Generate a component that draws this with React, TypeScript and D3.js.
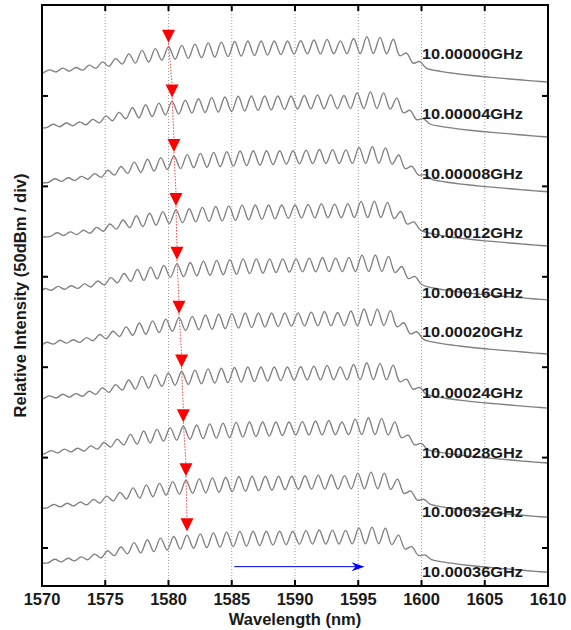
import React from "react";
import * as d3 from "d3";

// ---- data ----
const xTicks = [1570, 1575, 1580, 1585, 1590, 1595, 1600, 1605, 1610];
const yTicks = [0, 50, 100, 150, 200, 250];
const frequencyLabels = [
  "10.00000GHz", "10.00004GHz", "10.00008GHz", "10.00012GHz", "10.00016GHz",
  "10.00020GHz", "10.00024GHz", "10.00028GHz", "10.00032GHz", "10.00036GHz",
];
// level (dB) of each trace at 1610 nm (traces offset ~30 dB apart)
const traceLevels = [257.7, 227.3, 197.0, 167.0, 137.2, 107.3, 77.4, 47.0, 17.0, -13.4];
// marked (red triangle) peak wavelength of each trace
const markerWavelengths = [1580.0, 1580.28, 1580.43, 1580.59, 1580.67, 1580.83, 1581.04, 1581.17, 1581.38, 1581.46];
// comb peak wavelengths of the first trace
const combPeaks = [
  1569.55, 1570.6, 1571.64, 1572.69, 1573.73, 1574.78, 1575.82, 1576.87, 1577.91, 1578.96,
  1580.0, 1581.05, 1582.09, 1583.14, 1584.18, 1585.23, 1586.27, 1587.32, 1588.36, 1589.41,
  1590.45, 1591.5, 1592.54, 1593.59, 1594.63, 1595.68, 1596.72, 1597.77, 1598.81, 1599.86,
];
// peak-top envelope (dB above the 1610 nm level)
const peakNodes = [1570, 1571.4, 1572.6, 1573.8, 1574.8, 1575.9, 1577.0, 1578.0, 1579.1, 1580, 1583, 1586, 1590, 1592.6, 1593.7, 1594.7, 1595.7, 1596.7, 1597.75, 1598.7, 1599.75, 1600.4];
const peakLevels = [6.1, 7.6, 7.9, 9.4, 11.2, 13.1, 15.9, 17.7, 18.6, 19.5, 21.6, 22.7, 22.7, 23.6, 22.7, 24.2, 25.1, 24.7, 23.8, 16.5, 11.8, 9.0];
// valley envelope (dB above the 1610 nm level)
const valleyNodes = [1570, 1571, 1572.2, 1573.3, 1574.4, 1575.4, 1576.4, 1577.5, 1578.5, 1579.6, 1582, 1586, 1590, 1597, 1598.2, 1599.2, 1600.2, 1601];
const valleyLevels = [5.0, 5.5, 6.1, 6.6, 7.7, 8.8, 10.0, 10.5, 11.1, 12.2, 13.3, 14.4, 15.5, 15.8, 14.9, 10.8, 8.0, 6.6];
// smooth tail beyond the comb
const tailNodes = [1601.5, 1602, 1603, 1604, 1605, 1606, 1607, 1608, 1609, 1610];
const tailLevels = [5.9, 5.3, 4.4, 3.6, 2.9, 2.3, 1.7, 1.1, 0.5, 0.0];
// label baselines (dB)
const labelLevels = [270.3, 237.1, 203.9, 171.5, 138.1, 116.5, 82.8, 49.6, 17.0, -16.2];
// blue arrow
const arrowFrom = 1585.2;
const arrowTo = 1595.5;
const arrowLevel = -10.3;

const W = 571;
const H = 630;
const M = { left: 42, right: 548, top: 5, bottom: 586 };
const FONT = "'Liberation Sans', Arial, Helvetica, sans-serif";

export default function App() {
  const x = d3.scaleLinear().domain([1570, 1610]).range([M.left, M.right]);
  const y = d3.scaleLinear().domain([-21, 300.3]).range([M.bottom, M.top]);
  const peakEnv = d3.scaleLinear().domain(peakNodes).range(peakLevels).clamp(true);
  const valleyEnv = d3.scaleLinear().domain(valleyNodes).range(valleyLevels).clamp(true);
  const spacing = combPeaks[1] - combPeaks[0];

  const line = d3
    .line<[number, number]>()
    .x((d) => x(d[0]))
    .y((d) => y(d[1]))
    .curve(d3.curveCatmullRom.alpha(0.5));

  const tracePoints = (i: number): [number, number][] => {
    const shift = markerWavelengths[i] - markerWavelengths[0];
    const peaks = combPeaks.map((p) => p + shift).filter((p) => p >= 1570.2 && p <= 1600.4);
    const pts: [number, number][] = [[1570, valleyEnv(1570)]];
    peaks.forEach((p) => {
      const v = p - spacing / 2;
      if (v > 1570.05) pts.push([v, valleyEnv(v)]);
      pts.push([p, peakEnv(p)]);
    });
    const lastV = peaks[peaks.length - 1] + spacing / 2;
    pts.push([lastV, valleyEnv(lastV)]);
    tailNodes.forEach((w, k) => {
      if (w > lastV + 0.3) pts.push([w, tailLevels[k]]);
    });
    return pts.map(([w, l]) => [w, l + traceLevels[i]] as [number, number]);
  };

  const markers = markerWavelengths.map((m, i) => {
    const cx = x(m);
    const tip = y(traceLevels[i] + peakEnv(m)) - 4;
    return { cx, tip, top: tip - 13 };
  });

  const ay = y(arrowLevel);
  const ax1 = x(arrowFrom);
  const ax2 = x(arrowTo);

  return (
    <svg
      width={W}
      height={H}
      style={{ position: "absolute", left: 0, top: 0, background: "#fff" }}
      fontFamily={FONT}
    >
      <rect x={0} y={0} width={W} height={H} fill="#fff" />
      {/* dotted vertical grid */}
      {xTicks.slice(1, -1).map((t) => (
        <line
          key={"g" + t}
          x1={x(t)}
          x2={x(t)}
          y1={M.top}
          y2={M.bottom}
          stroke="#9a9a9a"
          strokeWidth={1}
          strokeDasharray="1,2"
        />
      ))}
      {/* traces */}
      {traceLevels.map((_, i) => (
        <path
          key={"t" + i}
          d={line(tracePoints(i)) || ""}
          fill="none"
          stroke="#808080"
          strokeWidth={1.35}
          strokeLinejoin="round"
        />
      ))}
      {/* red dotted guide */}
      {markers.slice(0, -1).map((m, i) => (
        <line
          key={"r" + i}
          x1={m.cx}
          y1={m.tip}
          x2={markers[i + 1].cx}
          y2={markers[i + 1].top}
          stroke="#ff4040"
          strokeWidth={1}
          strokeDasharray="1.5,1.5"
        />
      ))}
      {markers.map((m, i) => (
        <path
          key={"m" + i}
          d={`M${m.cx - 6.5},${m.top}L${m.cx + 6.5},${m.top}L${m.cx},${m.tip}Z`}
          fill="#ff0000"
        />
      ))}
      {/* blue arrow */}
      <line x1={ax1} x2={ax2 - 8} y1={ay} y2={ay} stroke="#0000ff" strokeWidth={1} />
      <path
        d={`M${ax2},${ay}L${ax2 - 13},${ay - 4.5}L${ax2 - 9},${ay}L${ax2 - 13},${ay + 4.5}Z`}
        fill="#0000ff"
      />
      {/* frequency labels */}
      {frequencyLabels.map((s, i) => (
        <text
          key={"l" + i}
          x={x(1600) + 0.5}
          y={y(labelLevels[i])}
          fontSize={15}
          fontWeight="bold"
          fill="#1a1a1a"
          textLength={101}
          lengthAdjust="spacingAndGlyphs"
        >
          {s}
        </text>
      ))}
      {/* frame */}
      <rect
        x={M.left}
        y={M.top}
        width={M.right - M.left}
        height={M.bottom - M.top}
        fill="none"
        stroke="#000"
        strokeWidth={2}
      />
      {/* ticks */}
      {xTicks.map((t) => (
        <g key={"xt" + t}>
          <line x1={x(t)} x2={x(t)} y1={M.bottom} y2={M.bottom - 6} stroke="#000" strokeWidth={2} />
          <line x1={x(t)} x2={x(t)} y1={M.top} y2={M.top + 6} stroke="#000" strokeWidth={2} />
          <text
            x={x(t)}
            y={605}
            textAnchor="middle"
            fontSize={16.5}
            fontWeight="bold"
            fill="#1a1a1a"
          >
            {t}
          </text>
        </g>
      ))}
      {yTicks.map((t) => (
        <g key={"yt" + t}>
          <line x1={M.left} x2={M.left + 6} y1={y(t)} y2={y(t)} stroke="#000" strokeWidth={2} />
          <line x1={M.right} x2={M.right - 6} y1={y(t)} y2={y(t)} stroke="#000" strokeWidth={2} />
        </g>
      ))}
      {/* axis titles */}
      <text
        x={(M.left + M.right) / 2}
        y={625}
        textAnchor="middle"
        fontSize={16.5}
        fontWeight="bold"
        fill="#1a1a1a"
      >
        Wavelength (nm)
      </text>
      <text
        transform={`translate(26,${(M.top + M.bottom) / 2}) rotate(-90)`}
        textAnchor="middle"
        fontSize={16.5}
        fontWeight="bold"
        fill="#1a1a1a"
      >
        Relative Intensity (50dBm / div)
      </text>
    </svg>
  );
}
